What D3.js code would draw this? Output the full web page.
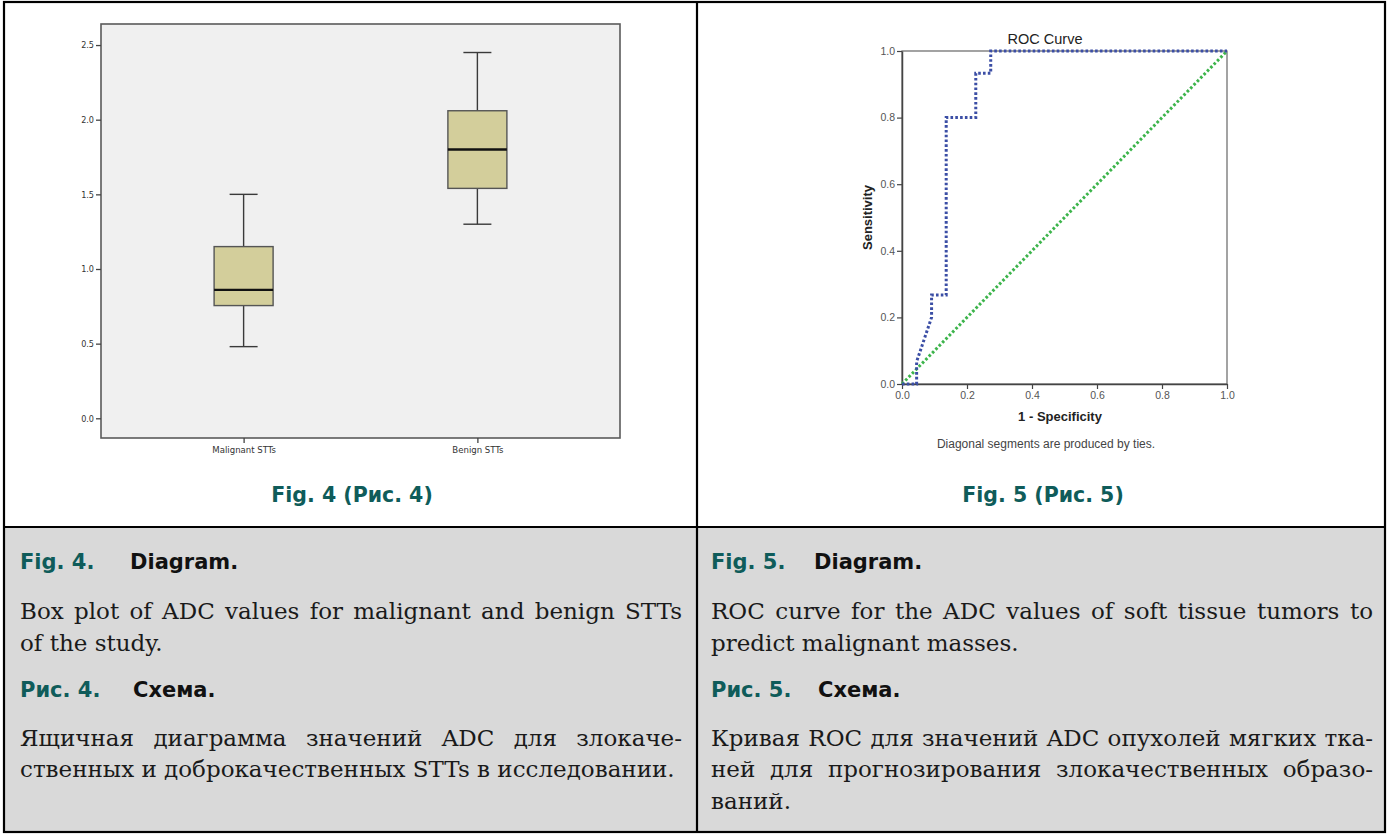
<!DOCTYPE html>
<html><head><meta charset="utf-8">
<script src="https://cdn.jsdelivr.net/npm/d3@7"></script>
<style>body{margin:0;background:#fff}</style>
</head><body>
<svg id="c" width="1387" height="834"></svg>
<script>
// ---------- DATA ----------
const boxCategories = ["Malignant STTs", "Benign STTs"];
const boxMin    = [0.48, 1.30];
const boxQ1     = [0.755, 1.54];
const boxMedian = [0.86, 1.80];
const boxQ3     = [1.15, 2.06];
const boxMax    = [1.50, 2.45];
const boxYTicks = [0, 0.5, 1.0, 1.5, 2.0, 2.5];

const rocFPR = [0, 0.045, 0.045, 0.091, 0.091, 0.136, 0.136, 0.227, 0.227, 0.273, 0.273, 1.0];
const rocTPR = [0, 0, 0.067, 0.200, 0.267, 0.267, 0.800, 0.800, 0.933, 0.933, 1.0, 1.0];
const refFPR = [0, 1];
const refTPR = [0, 1];
const rocTicks = [0, 0.2, 0.4, 0.6, 0.8, 1.0];

const captions = {
  left: {
    h1: ["Fig. 4.", "Diagram."],
    p1: ["Box plot of ADC values for malignant and benign STTs", "of the study."],
    h2: ["Рис. 4.", "Схема."],
    p2: ["Ящичная диаграмма значений ADC для злокаче-", "ственных и доброкачественных STTs в исследовании."]
  },
  right: {
    h1: ["Fig. 5.", "Diagram."],
    p1: ["ROC curve for the ADC values of soft tissue tumors to", "predict malignant masses."],
    h2: ["Рис. 5.", "Схема."],
    p2: ["Кривая ROC для значений ADC опухолей мягких тка-", "ней для прогнозирования злокачественных образо-", "ваний."]
  }
};
const figTitles = ["Fig. 4 (Рис. 4)", "Fig. 5 (Рис. 5)"];

// ---------- DRAW ----------
const svg = d3.select("#c");
const TEAL = "#0f5c5a";

svg.append("rect").attr("x", 4).attr("y", 527).attr("width", 1381).attr("height", 305).attr("fill", "#d9d9d9");

// ===== Box plot =====
const bx = {l: 101, r: 620, t: 24, b: 438};
const xBox = d3.scalePoint().domain(boxCategories).range([bx.l, bx.r]).padding(0.61);
const yBox = d3.scaleLinear().domain([-0.132, 2.641]).range([bx.b, bx.t]);
const gB = svg.append("g");
gB.append("rect").attr("x", bx.l).attr("y", bx.t).attr("width", bx.r - bx.l).attr("height", bx.b - bx.t)
  .attr("fill", "#f0f0f0").attr("stroke", "#5a5a5a").attr("stroke-width", 1.6);

const tickFont = "'DejaVu Sans Condensed','DejaVu Sans',sans-serif";
const yAx = gB.append("g").attr("transform", `translate(${bx.l},0)`)
  .call(d3.axisLeft(yBox).tickValues(boxYTicks).tickFormat(d3.format(".1f")).tickSize(5).tickPadding(2));
yAx.select(".domain").remove();
const xAx = gB.append("g").attr("transform", `translate(0,${bx.b})`)
  .call(d3.axisBottom(xBox).tickSize(5).tickPadding(3));
xAx.select(".domain").remove();
[yAx, xAx].forEach(a => {
  a.selectAll("line").attr("stroke", "#444").attr("stroke-width", 1.3);
  a.selectAll("text").attr("fill", "#333").style("font-family", tickFont);
});
yAx.selectAll("text").style("font-size", "9px");
xAx.selectAll("text").style("font-size", "9.5px");

const boxW = 59, capW = 28;
boxCategories.forEach((c, i) => {
  const cx = xBox(c);
  const ws = {stroke: "#3a3a3a", "stroke-width": 1.4};
  const line = (x1, y1, x2, y2, st) => { const l = gB.append("line").attr("x1", x1).attr("y1", y1).attr("x2", x2).attr("y2", y2); Object.entries(st).forEach(([k, v]) => l.attr(k, v)); };
  line(cx, yBox(boxMax[i]), cx, yBox(boxQ3[i]), ws);
  line(cx, yBox(boxQ1[i]), cx, yBox(boxMin[i]), ws);
  line(cx - capW / 2, yBox(boxMax[i]), cx + capW / 2, yBox(boxMax[i]), ws);
  line(cx - capW / 2, yBox(boxMin[i]), cx + capW / 2, yBox(boxMin[i]), ws);
  gB.append("rect").attr("x", cx - boxW / 2).attr("y", yBox(boxQ3[i])).attr("width", boxW)
    .attr("height", yBox(boxQ1[i]) - yBox(boxQ3[i])).attr("fill", "#d3ce9b").attr("stroke", "#555").attr("stroke-width", 1.4);
  line(cx - boxW / 2, yBox(boxMedian[i]), cx + boxW / 2, yBox(boxMedian[i]), {stroke: "#111", "stroke-width": 2.4});
});

// ===== ROC =====
const rc = {l: 902, r: 1227, t: 51, b: 384};
const xR = d3.scaleLinear().domain([0, 1]).range([rc.l, rc.r]);
const yR = d3.scaleLinear().domain([0, 1]).range([rc.b, rc.t]);
const gR = svg.append("g");
gR.append("rect").attr("x", rc.l).attr("y", rc.t).attr("width", rc.r - rc.l).attr("height", rc.b - rc.t)
  .attr("fill", "none").attr("stroke", "#666").attr("stroke-width", 1.2);
const rFont = "'Liberation Sans',Arial,sans-serif";
const ryA = gR.append("g").attr("transform", `translate(${rc.l},0)`)
  .call(d3.axisLeft(yR).tickValues(rocTicks).tickFormat(d3.format(".1f")).tickSize(5).tickSizeOuter(0).tickPadding(2));
const rxA = gR.append("g").attr("transform", `translate(0,${rc.b})`)
  .call(d3.axisBottom(xR).tickValues(rocTicks).tickFormat(d3.format(".1f")).tickSize(5).tickSizeOuter(0).tickPadding(3));
[ryA, rxA].forEach(a => {
  a.select(".domain").attr("stroke", "#444").attr("stroke-width", 1.5);
  a.selectAll(".tick line").attr("stroke", "#444").attr("stroke-width", 1.2);
  a.selectAll("text").attr("fill", "#555").style("font-family", rFont).style("font-size", "10.5px");
});

const lineGen = (xs, ys) => d3.line().x((d, i) => xR(xs[i])).y((d, i) => yR(ys[i]))(xs);
gR.append("path").attr("d", lineGen(refFPR, refTPR)).attr("fill", "none")
  .attr("stroke", "#3cb44b").attr("stroke-width", 3).attr("stroke-dasharray", "2.6,2.2");
gR.append("path").attr("d", lineGen(rocFPR, rocTPR)).attr("fill", "none")
  .attr("stroke", "#3b4ea5").attr("stroke-width", 3).attr("stroke-dasharray", "2.6,2.2");

gR.append("text").attr("x", 1045).attr("y", 44).attr("text-anchor", "middle")
  .style("font-family", rFont).style("font-size", "14.5px").attr("fill", "#222").text("ROC Curve");
gR.append("text").attr("x", 1060).attr("y", 421).attr("text-anchor", "middle")
  .style("font-family", rFont).style("font-size", "13px").style("font-weight", "bold").attr("fill", "#222").text("1 - Specificity");
gR.append("text").attr("transform", `translate(872,${(rc.t + rc.b) / 2}) rotate(-90)`).attr("text-anchor", "middle")
  .style("font-family", rFont).style("font-size", "13px").style("font-weight", "bold").attr("fill", "#222").text("Sensitivity");
gR.append("text").attr("x", 1046).attr("y", 448).attr("text-anchor", "middle")
  .style("font-family", rFont).style("font-size", "12px").attr("fill", "#444").text("Diagonal segments are produced by ties.");

// Figure titles
const headFont = "'DejaVu Sans',sans-serif";
[[352, figTitles[0]], [1043, figTitles[1]]].forEach(([x, t]) => {
  svg.append("text").attr("x", x).attr("y", 502).attr("text-anchor", "middle")
    .style("font-family", headFont).style("font-weight", "bold").style("font-size", "20.5px")
    .attr("fill", TEAL).text(t);
});

// ===== Captions =====
const serif = "'DejaVu Serif',serif";
function heading(x0, x1, y, parts) {
  svg.append("text").attr("x", x0).attr("y", y).style("font-family", headFont).style("font-weight", "bold")
    .style("font-size", "21px").attr("fill", TEAL).text(parts[0]);
  svg.append("text").attr("x", x1).attr("y", y).style("font-family", headFont).style("font-weight", "bold")
    .style("font-size", "21px").attr("fill", "#111").text(parts[1]);
}
function para(x0, x1, ys, lines) {
  lines.forEach((ln, i) => {
    const t = svg.append("text").attr("x", x0).attr("y", ys[i]).style("font-family", serif)
      .style("font-size", "23px").attr("fill", "#1a1a1a").text(ln);
    const Lw = t.node().getComputedTextLength();
    if (i < lines.length - 1 || Lw > x1 - x0) {
      const n = (ln.match(/ /g) || []).length;
      if (n > 0) t.style("word-spacing", ((x1 - x0 - Lw) / n) + "px");
    }
  });
}
const L = captions.left, R = captions.right;
heading(20, 130, 569, L.h1);
para(20, 682, [619, 651], L.p1);
heading(20, 133, 697, L.h2);
para(20, 682, [746, 777], L.p2);

heading(711, 814, 569, R.h1);
para(711, 1373, [619, 651], R.p1);
heading(711, 818, 697, R.h2);
para(711, 1373, [746, 777, 809], R.p2);

// frame lines
const fr = svg.append("g").attr("stroke", "#000").attr("stroke-width", 2.2).attr("fill", "none");
fr.append("rect").attr("x", 4).attr("y", 2).attr("width", 1381).attr("height", 830);
fr.append("line").attr("x1", 697).attr("y1", 2).attr("x2", 697).attr("y2", 832);
fr.append("line").attr("x1", 4).attr("y1", 527).attr("x2", 1385).attr("y2", 527);
</script>
</body></html>
